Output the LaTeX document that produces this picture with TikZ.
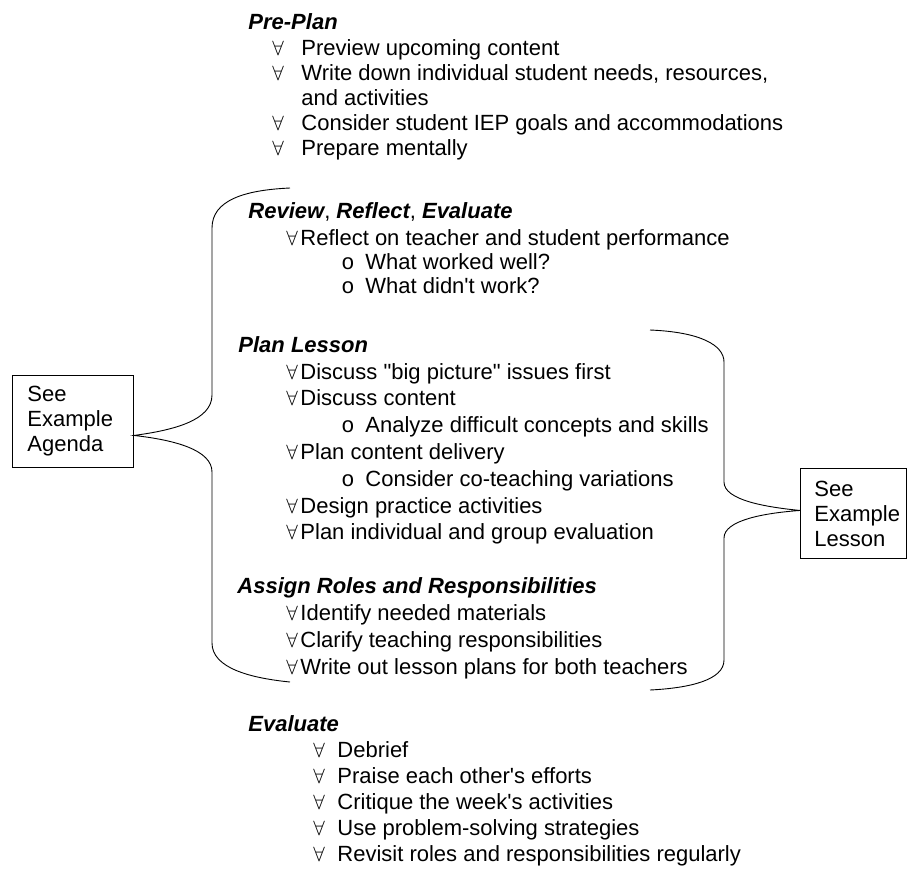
\documentclass[tikz,border=0pt]{standalone}
\usepackage{fontspec}
\setmainfont{Liberation Sans}
\newfontfamily\monofont{Liberation Mono}
\newcommand{\bodysize}{\fontsize{22}{25}\selectfont}
\newcommand{\fa}[1][14pt]{\makebox[#1][l]{$\forall$}}
\newcommand{\ob}{\makebox[24pt][l]{\monofont o}}
\newcommand{\ap}{\textquotesingle}
\newcommand{\qt}{\textquotedbl}

\begin{document}
\begin{tikzpicture}[x=1pt, y=-1pt, line width=0.9pt, font=\bodysize,
    head/.style={anchor=base west, inner sep=0pt, font=\bodysize\bfseries\itshape},
    item/.style={anchor=base west, inner sep=0pt},
    seebox/.style={draw, anchor=north west, align=left}]
  \useasboundingbox (0,0) rectangle (907,871);

  % Pre-Plan
  \node[head] (pre) at (248,29) {Pre-Plan};
  \node[item] (pre1) at (272,55) {\fa[29pt]Preview upcoming content};
  \node[item] (pre2) at (272,80) {\fa[29pt]Write down individual student needs, resources,};
  \node[item] (pre2b) at (301,105) {and activities};
  \node[item] (pre3) at (272,130) {\fa[29pt]Consider student IEP goals and accommodations};
  \node[item] (pre4) at (272,155) {\fa[29pt]Prepare mentally};

  % Review, Reflect, Evaluate
  \node[head] (rev) at (248,218) {Review{\normalfont,} Reflect{\normalfont,} Evaluate};
  \node[item] (rev1) at (286,245) {\fa Reflect on teacher and student performance};
  \node[item] (rev2) at (341,269) {\ob What worked well?};
  \node[item] (rev3) at (341,293) {\ob What didn\ap t work?};

  % Plan Lesson
  \node[head] (plan) at (238,352) {Plan Lesson};
  \node[item] (plan1) at (286,379) {\fa Discuss \qt big picture\qt\ issues first};
  \node[item] (plan2) at (286,405) {\fa Discuss content};
  \node[item] (plan3) at (341,432) {\ob Analyze difficult concepts and skills};
  \node[item] (plan4) at (286,459) {\fa Plan content delivery};
  \node[item] (plan5) at (341,486) {\ob Consider co-teaching variations};
  \node[item] (plan6) at (286,513) {\fa Design practice activities};
  \node[item] (plan7) at (286,539) {\fa Plan individual and group evaluation};

  % Assign Roles and Responsibilities
  \node[head] (roles) at (237,593) {Assign Roles and Responsibilities};
  \node[item] (roles1) at (286,620) {\fa Identify needed materials};
  \node[item] (roles2) at (286,647) {\fa Clarify teaching responsibilities};
  \node[item] (roles3) at (286,674) {\fa Write out lesson plans for both teachers};

  % Evaluate
  \node[head] (eval) at (248,731) {Evaluate};
  \node[item] (eval1) at (313,757) {\fa[24pt]Debrief};
  \node[item] (eval2) at (313,783) {\fa[24pt]Praise each other\ap s efforts};
  \node[item] (eval3) at (313,809) {\fa[24pt]Critique the week\ap s activities};
  \node[item] (eval4) at (313,835) {\fa[24pt]Use problem-solving strategies};
  \node[item] (eval5) at (313,861) {\fa[24pt]Revisit roles and responsibilities regularly};

  % side boxes
  \node[seebox, text width=91pt, inner xsep=15pt, minimum height=92pt]
    (agenda) at (12,375) {See\\Example\\Agenda};
  \node[seebox, text width=78pt, inner xsep=14pt, minimum height=90pt]
    (lesson) at (800,468) {See\\Example\\Lesson};

  % braces
  \coordinate (agendaJoin) at ([yshift=-14pt]agenda.east);
  \coordinate (lessonJoin) at ([yshift=3pt]lesson.west);
  \coordinate (lbTop) at (290,188);
  \coordinate (lbBot) at (290,682);
  \coordinate (rbTop) at (650,330);
  \coordinate (rbBot) at (650,690);
  \draw (lbTop) .. controls (245,190) and (212,200) .. (212,228)
    -- (212,395) .. controls (212,420) and (175,430) .. (agendaJoin)
    .. controls (175,440) and (212,450) .. (212,472)
    -- (212,643) .. controls (212,668) and (250,678) .. (lbBot);
  \draw (rbTop) .. controls (700,332) and (724,345) .. (724,362)
    -- (724,482) .. controls (724,500) and (765,507) .. (lessonJoin)
    .. controls (765,513) and (724,520) .. (724,538)
    -- (724,660) .. controls (724,680) and (690,688) .. (rbBot);
\end{tikzpicture}
\end{document}
